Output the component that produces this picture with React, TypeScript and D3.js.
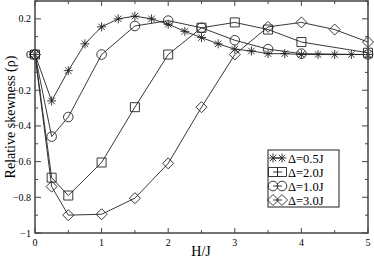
import { useEffect, useRef } from "react";
import * as d3 from "d3";

// H/J sample positions and relative skewness values for each curve
const starX = [0, 0.25, 0.5, 0.75, 1, 1.25, 1.5, 1.75, 2, 2.25, 2.5, 2.75, 3, 3.25, 3.5, 3.75, 4, 4.25, 4.5, 4.75, 5];
const starY = [0, -0.26, -0.09, 0.06, 0.155, 0.2, 0.215, 0.2, 0.17, 0.13, 0.095, 0.06, 0.03, 0.02, 0.005, 0.005, 0, 0, 0, 0, 0];

const squareX = [0, 0.25, 0.5, 1, 1.5, 2, 2.5, 3, 3.5, 4, 5];
const squareY = [0, -0.69, -0.79, -0.605, -0.295, 0, 0.15, 0.18, 0.14, 0.07, 0.01];

const circleX = [0, 0.25, 0.5, 1, 1.5, 2, 2.5, 3, 3.5, 4, 5];
const circleY = [0, -0.46, -0.35, 0, 0.16, 0.19, 0.15, 0.08, 0.03, 0.005, 0];

const diamondX = [0, 0.25, 0.5, 1, 1.5, 2, 2.5, 3, 3.5, 4, 4.5, 5];
const diamondY = [0, -0.74, -0.9, -0.895, -0.805, -0.61, -0.295, 0, 0.155, 0.18, 0.14, 0.07];

const legendLabels = ["Δ=0.5J", "Δ=2.0J", "Δ=1.0J", "Δ=3.0J"];
const xTicks = [0, 1, 2, 3, 4, 5];
const yTicks = [-1, -0.8, -0.6, -0.4, -0.2, 0, 0.2];

const W = 374;
const H = 258;

function markerPath(kind: string, cx: number, cy: number) {
    const p = d3.path();
    if (kind === "star") {
        const r = 4.5, d = r * 0.72;
        p.moveTo(cx - r, cy); p.lineTo(cx + r, cy);
        p.moveTo(cx, cy - r); p.lineTo(cx, cy + r);
        p.moveTo(cx - d, cy - d); p.lineTo(cx + d, cy + d);
        p.moveTo(cx - d, cy + d); p.lineTo(cx + d, cy - d);
    } else if (kind === "square") {
        p.rect(cx - 4.5, cy - 4.5, 9, 9);
    } else if (kind === "circle") {
        p.moveTo(cx + 4.8, cy);
        p.arc(cx, cy, 4.8, 0, Math.PI * 2);
    } else {
        const r = 5.5;
        p.moveTo(cx, cy - r); p.lineTo(cx + r, cy); p.lineTo(cx, cy + r); p.lineTo(cx - r, cy); p.closePath();
    }
    return p.toString();
}

function Chart() {
    const ref = useRef<SVGSVGElement>(null);

    useEffect(() => {
        const svg = d3.select(ref.current);
        svg.selectAll("*").remove();

        const x = d3.scaleLinear().domain([0, 5]).range([35, 368]);
        const y = d3.scaleLinear().domain([-1, 0.3]).range([233, 1]);
        const axisColor = "#444";

        // data lines + markers
        const series = [
            { kind: "star", xs: starX, ys: starY },
            { kind: "square", xs: squareX, ys: squareY },
            { kind: "circle", xs: circleX, ys: circleY },
            { kind: "diamond", xs: diamondX, ys: diamondY },
        ];
        const line = d3.line<[number, number]>().x(d => x(d[0])).y(d => y(d[1]));

        series.forEach(s => {
            const pts = s.xs.map((v, i) => [v, s.ys[i]] as [number, number]);
            svg.append("path")
                .attr("d", line(pts))
                .attr("fill", "none")
                .attr("stroke", "#222")
                .attr("stroke-width", 0.9);
        });
        series.forEach(s => {
            const g = svg.append("g");
            s.xs.forEach((v, i) => {
                g.append("path")
                    .attr("d", markerPath(s.kind, x(v), y(s.ys[i])))
                    .attr("fill", "none")
                    .attr("stroke", "#222")
                    .attr("stroke-width", 0.9);
            });
        });

        // frame
        svg.append("rect")
            .attr("x", 35).attr("y", 1)
            .attr("width", 333).attr("height", 232)
            .attr("fill", "none")
            .attr("stroke", axisColor)
            .attr("stroke-width", 1.5);

        // ticks (inward, on all four sides)
        const ticks = svg.append("g").attr("stroke", axisColor).attr("stroke-width", 1);
        d3.range(0, 5.01, 0.5).forEach(v => {
            const len = Math.abs(v - Math.round(v)) < 1e-6 ? 5 : 3;
            ticks.append("line").attr("x1", x(v)).attr("x2", x(v)).attr("y1", 233).attr("y2", 233 - len);
            ticks.append("line").attr("x1", x(v)).attr("x2", x(v)).attr("y1", 1).attr("y2", 1 + len);
        });
        d3.range(-1, 0.301, 0.1).forEach(v => {
            const major = Math.abs(v * 5 - Math.round(v * 5)) < 1e-6;
            const len = major ? 6 : 3;
            ticks.append("line").attr("x1", 35).attr("x2", 35 + len).attr("y1", y(v)).attr("y2", y(v));
            ticks.append("line").attr("x1", 368).attr("x2", 368 - len).attr("y1", y(v)).attr("y2", y(v));
        });

        // all text uses a Times-like serif face
        const txt = svg.append("g").style("font-family", "'Liberation Serif', 'DejaVu Serif', serif");

        // tick labels
        txt.append("g").selectAll("text").data(xTicks).join("text")
            .attr("x", d => x(d)).attr("y", 246)
            .attr("text-anchor", "middle")
            .attr("font-size", 10)
            .text(d => d);
        txt.append("g").selectAll("text").data(yTicks).join("text")
            .attr("x", 31).attr("y", d => y(d) + 3.5)
            .attr("text-anchor", "end")
            .attr("font-size", 10)
            .text(d => d3.format("")(d));

        // axis titles
        txt.append("text")
            .attr("x", 201).attr("y", 256)
            .attr("text-anchor", "middle")
            .attr("font-size", 14)
            .text("H/J");
        txt.append("text")
            .attr("transform", "translate(15, 117) rotate(-90)")
            .attr("text-anchor", "middle")
            .attr("font-size", 14)
            .text("Relative skewness (ρ)");

        // legend
        const legend = svg.append("g");
        legend.append("rect")
            .attr("x", 268).attr("y", 150)
            .attr("width", 71).attr("height", 57)
            .attr("fill", "white")
            .attr("stroke", axisColor).attr("stroke-width", 1.2);
        const kinds = ["star", "square", "circle", "diamond"];
        legendLabels.forEach((label, i) => {
            const cy = 158 + i * 14;
            legend.append("line")
                .attr("x1", 273).attr("x2", 282).attr("y1", cy).attr("y2", cy)
                .attr("stroke", "#222").attr("stroke-width", 0.9);
            [273, 282].forEach(cx => {
                legend.append("path")
                    .attr("d", markerPath(kinds[i], cx, cy))
                    .attr("fill", "none")
                    .attr("stroke", "#222").attr("stroke-width", 0.9);
            });
            legend.append("text")
                .attr("x", 288).attr("y", cy + 4.5)
                .style("font-family", "'Liberation Serif', 'DejaVu Serif', serif")
                .attr("font-size", 12.5)
                .text(label);
        });
    }, []);

    return <svg width={W} height={H} ref={ref} style={{ position: "absolute", left: 0, top: 0, background: "white" }}></svg>;
}

export default function App() {
    return <Chart />;
}
